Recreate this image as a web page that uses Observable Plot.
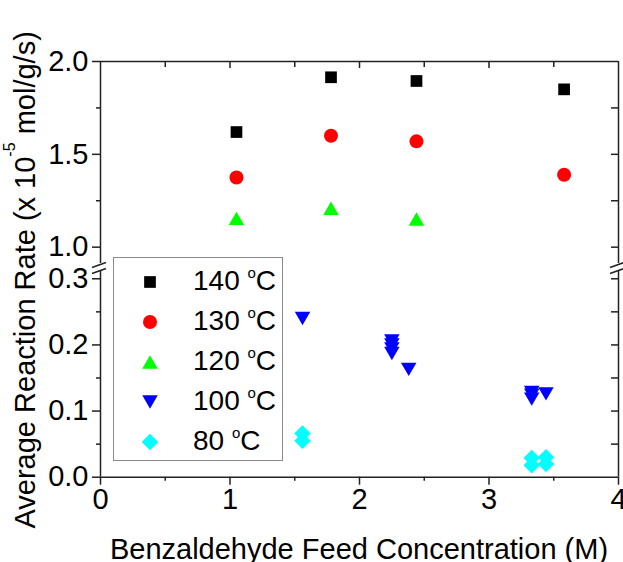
<!DOCTYPE html>
<html>
<head>
<meta charset="utf-8">
<script src="https://cdn.jsdelivr.net/npm/d3@7"></script>
<script src="https://cdn.jsdelivr.net/npm/@observablehq/plot@0.6"></script>
<style>
  body { margin: 0; background: #fff; }
  #chart { position: relative; width: 623px; height: 562px; overflow: hidden;
           font-family: "Liberation Sans", Arial, sans-serif; background: #fff; }
  #chart > svg { position: absolute; left: 0; top: 0; }
  #legend { position: absolute; left: 113px; top: 257px; width: 170px; height: 204px;
            box-sizing: border-box; border: 1px solid #8a8a8a; background: #fff; padding-top: 4px; overflow: hidden; }
  .row { position: relative; height: 40px; line-height: 40px; font-size: 28px; color: #000; }
  .row svg { position: absolute; left: 24px; top: 8px; }
  .row .lab { position: absolute; left: 79px; top: -1px; white-space: nowrap; }
  .row .sup { font-size: 15px; position: relative; top: -12px; }
</style>
</head>
<body>
<div id="chart"></div>
<script>
// ---- data ----
const temps = [140, 130, 120, 100, 80];
const colors = ["#000000", "#ff0000", "#00ff00", "#0000ff", "#00ffff"];

const x140 = [1.05, 1.78, 2.44, 3.58];
const y140 = [1.62, 1.915, 1.895, 1.85];
const x130 = [1.05, 1.78, 2.44, 3.58];
const y130 = [1.375, 1.60, 1.57, 1.39];
const x120 = [1.05, 1.78, 2.44];
const y120 = [1.155, 1.21, 1.152];
const x100 = [1.56, 2.25, 2.25, 2.25, 2.25, 2.38, 3.33, 3.33, 3.33, 3.44];
const y100 = [0.240, 0.206, 0.200, 0.194, 0.187, 0.163, 0.128, 0.124, 0.118, 0.126];
const x80 = [1.56, 1.56, 3.33, 3.33, 3.44, 3.44];
const y80 = [0.066, 0.055, 0.029, 0.018, 0.030, 0.020];

const xMajor = [0, 1, 2, 3, 4];
const xMinor = [0.5, 1.5, 2.5, 3.5];
const upperMajor = [1.0, 1.5, 2.0];
const upperMinor = [1.25, 1.75];
const lowerMajor = [0.0, 0.1, 0.2, 0.3];
const lowerMinor = [0.05, 0.15, 0.25];

const xTitle = "Benzaldehyde Feed Concentration (M)";
const yTitleA = "Average Reaction Rate (x 10";
const yTitleSup = "-5";
const yTitleB = " mol/g/s)";

// ---- symbols ----
function tri(down) {
  return {draw(c, size) {
    const s = Math.sqrt(size * 4 / Math.sqrt(3)), h = s * Math.sqrt(3) / 2;
    if (down) { c.moveTo(-s / 2, -h / 2); c.lineTo(s / 2, -h / 2); c.lineTo(0, h / 2); }
    else { c.moveTo(0, -h / 2); c.lineTo(s / 2, h / 2); c.lineTo(-s / 2, h / 2); }
    c.closePath();
  }};
}
const rFromArea = a => Math.sqrt(a / Math.PI);
const symbols = [d3.symbolSquare, d3.symbolCircle, tri(false), tri(true), d3.symbolDiamond2];
const radii = [rFromArea(11.7 * 11.7), 7, rFromArea(Math.sqrt(3) / 4 * 15.5 * 15.5),
               rFromArea(Math.sqrt(3) / 4 * 15.5 * 15.5), rFromArea(13.2 * 13.2)];

const rows = (xs, ys) => xs.map((x, i) => ({x, y: ys[i]}));
const series = [rows(x140, y140), rows(x130, y130), rows(x120, y120), rows(x100, y100), rows(x80, y80)];

const W = 623, H = 562;
const axisColor = "#222";
const tickFont = 29;
const font = '"Liberation Sans", Arial, sans-serif';
const baseStyle = {fontSize: "29px", fontFamily: font, color: "#000", background: "transparent", overflow: "visible"};

const dots = idx => idx.map(i => Plot.dot(series[i], {x: "x", y: "y", symbol: symbols[i], r: radii[i], fill: colors[i], stroke: "none"}));

// ---- upper panel (1.0 - 2.0) ----
const upperDomain = [0.912, 2.0];
const upper = Plot.plot({
  width: W, height: H, marginLeft: 100, marginRight: 5, marginTop: 61, marginBottom: 299,
  style: baseStyle,
  x: {domain: [0, 4], axis: null},
  y: {domain: upperDomain, axis: null},
  marks: [
    Plot.ruleX([0, 4], {stroke: axisColor, strokeWidth: 1.5}),
    Plot.ruleY([2.0], {stroke: axisColor, strokeWidth: 1.5}),
    Plot.axisY({anchor: "left", ticks: upperMajor, tickSize: 8, tickPadding: 4, tickFormat: d3.format(".1f"), label: null, stroke: axisColor, strokeWidth: 1.5, fill: "#000", fontSize: tickFont}),
    Plot.axisY({anchor: "left", ticks: upperMinor, tickSize: 4, tickFormat: () => "", label: null, stroke: axisColor, strokeWidth: 1.5}),
    Plot.tickY(upperMajor.concat(upperMinor).filter(v => v < 2), {insetLeft: 511, stroke: axisColor, strokeWidth: 1.5}),
    Plot.tickX(xMajor.filter(v => v > 0 && v < 4), {insetBottom: 195, stroke: axisColor, strokeWidth: 1.5}),
    Plot.tickX(xMinor, {insetBottom: 196, stroke: axisColor, strokeWidth: 1.5}),
    ...dots([0, 1, 2])
  ]
});

// ---- lower panel (0 - 0.3) ----
const lowerDomain = [0, 0.311];
const lower = Plot.plot({
  width: W, height: H, marginLeft: 100, marginRight: 5, marginTop: 271, marginBottom: 85.3,
  style: baseStyle,
  x: {domain: [0, 4], axis: null},
  y: {domain: lowerDomain, axis: null},
  marks: [
    Plot.ruleX([0, 4], {stroke: axisColor, strokeWidth: 1.5}),
    Plot.ruleY([0], {stroke: axisColor, strokeWidth: 1.5}),
    Plot.axisY({anchor: "left", ticks: lowerMajor, tickSize: 8, tickPadding: 4, tickFormat: d3.format(".1f"), label: null, stroke: axisColor, strokeWidth: 1.5, fill: "#000", fontSize: tickFont}),
    Plot.axisY({anchor: "left", ticks: lowerMinor, tickSize: 4, tickFormat: () => "", label: null, stroke: axisColor, strokeWidth: 1.5}),
    Plot.tickY(lowerMajor.concat(lowerMinor).filter(v => v > 0), {insetLeft: 511, stroke: axisColor, strokeWidth: 1.5}),
    Plot.axisX({anchor: "bottom", ticks: xMajor, tickSize: 8, tickPadding: 3, tickFormat: d3.format("d"), label: null, stroke: axisColor, strokeWidth: 1.5, fill: "#000", fontSize: tickFont}),
    Plot.axisX({anchor: "bottom", ticks: xMinor, tickSize: 4, tickFormat: () => "", label: null, stroke: axisColor, strokeWidth: 1.5}),
    ...dots([3, 4])
  ]
});

const chart = document.getElementById("chart");
chart.appendChild(upper);
chart.appendChild(lower);

// ---- axis break marks and titles (placed from the scales) ----
const xs = lower.scale("x"), yu = upper.scale("y"), yl = lower.scale("y");
const ov = d3.select(lower);
const breakTop = yu.apply(upperDomain[0]) + 2;
const breakBot = yl.apply(lowerDomain[1]);
for (const xv of [0, 4]) {
  const px = xs.apply(xv);
  for (const yb of [breakTop, breakBot]) {
    ov.append("line").attr("x1", px - 8).attr("y1", yb + 2.5).attr("x2", px + 6).attr("y2", yb - 2.5)
      .attr("stroke", axisColor).attr("stroke-width", 1.5);
  }
}

// y title
const yMid = (yu.apply(upperDomain[1]) + yl.apply(lowerDomain[0])) / 2 + 11;
const yt = ov.append("text").attr("transform", `translate(35,${yMid}) rotate(-90)`)
  .attr("text-anchor", "middle").attr("font-size", 29).attr("fill", "#000").attr("font-family", font);
yt.append("tspan").text(yTitleA);
yt.append("tspan").attr("font-size", 16).attr("dy", -20).text(yTitleSup);
yt.append("tspan").attr("dy", 20).text(yTitleB);

// x title
ov.append("text").attr("x", (xs.apply(0) + xs.apply(4)) / 2).attr("y", 559)
  .attr("text-anchor", "middle").attr("font-size", 29).attr("fill", "#000").attr("font-family", font)
  .text(xTitle);

// ---- legend ----
const legend = document.createElement("div");
legend.id = "legend";
temps.forEach((t, i) => {
  const row = document.createElement("div");
  row.className = "row";
  const s = d3.create("svg").attr("width", 24).attr("height", 24);
  s.append("path").attr("transform", "translate(12,12)")
    .attr("d", d3.symbol(symbols[i], Math.PI * radii[i] * radii[i])())
    .attr("fill", colors[i]);
  row.appendChild(s.node());
  const lab = document.createElement("span");
  lab.className = "lab";
  lab.innerHTML = `${t} <span class="sup">o</span>C`;
  row.appendChild(lab);
  legend.appendChild(row);
});
chart.appendChild(legend);
</script>
</body>
</html>
